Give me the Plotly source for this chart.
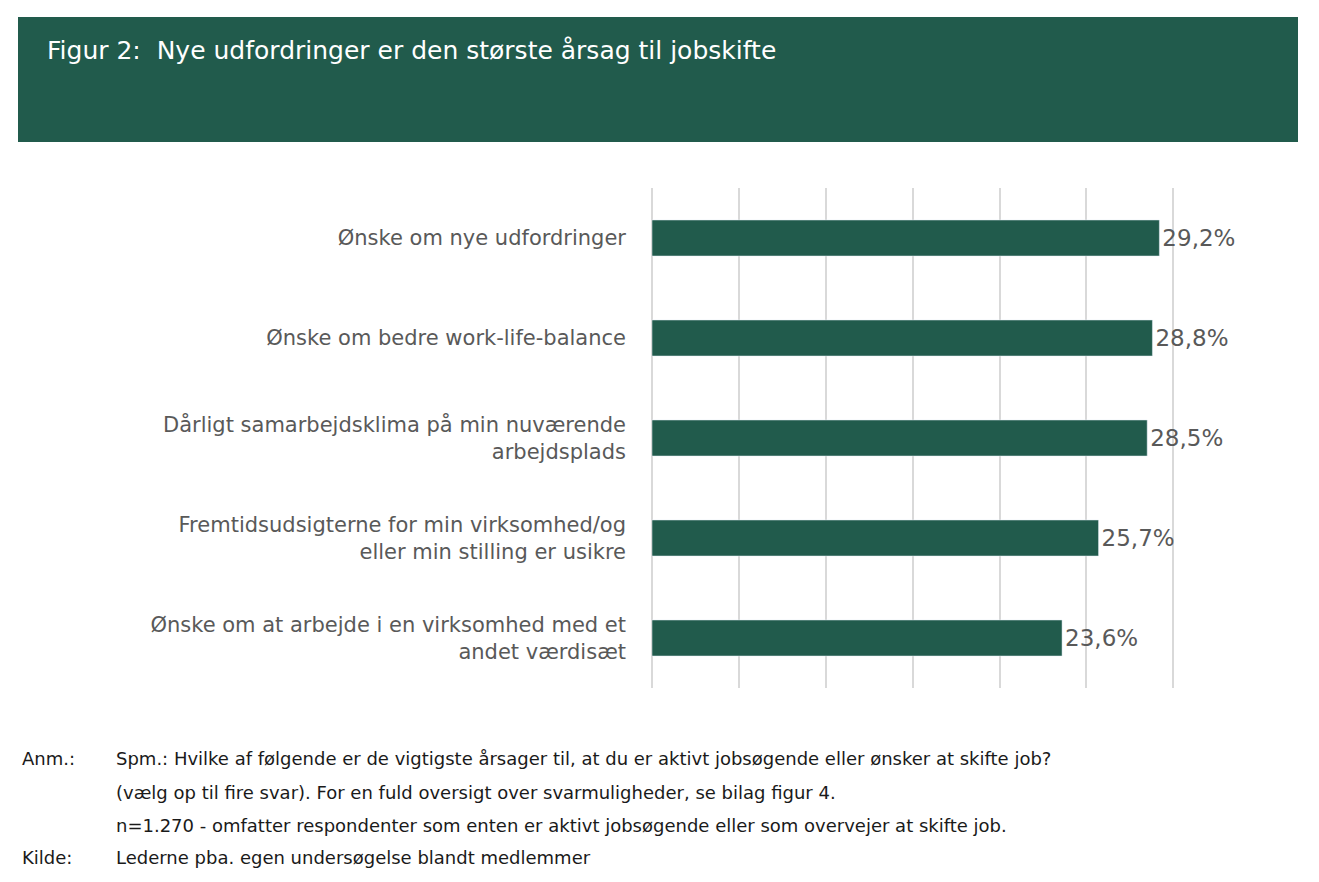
import plotly.graph_objects as go

categories = ["Ønske om nye udfordringer", "Ønske om bedre work-life-balance",
              "Dårligt samarbejdsklima på min nuværende<br>arbejdsplads",
              "Fremtidsudsigterne for min virksomhed/og<br>eller min stilling er usikre",
              "Ønske om at arbejde i en virksomhed med et<br>andet værdisæt"]
values = [29.2, 28.8, 28.5, 25.7, 23.6]
labels = ["29,2%", "28,8%", "28,5%", "25,7%", "23,6%"]

W, H = 1319, 882
OFF = 8
L, R, T, B = 652 - OFF, 1261 - OFF, 188 - OFF, 688 - OFF
def px(x): return (x - OFF - L) / (R - L)
def py(y): return (B - (y - OFF)) / (B - T)

green = "#215B4C"
font = "DejaVu Sans"
fig = go.Figure(go.Bar(
    y=categories, x=values, orientation="h", marker_color=green,
    text=labels, textposition="outside", cliponaxis=False,
    textfont=dict(size=23, color="#595959", family=font), width=0.36))
fig.update_layout(
    width=W, height=H, plot_bgcolor="white", paper_bgcolor="white",
    margin=dict(l=L, r=W - R, t=T, b=H - B), showlegend=False,
    font=dict(family=font, color="#595959"),
    xaxis=dict(range=[0, 35.05], dtick=5, showticklabels=False, gridcolor="#D9D9D9",
               gridwidth=1.5, zeroline=True, zerolinecolor="#D9D9D9", zerolinewidth=1.5,
               showline=False, fixedrange=True),
    yaxis=dict(autorange="reversed", automargin=False, tickfont=dict(size=21, color="#595959"),
               ticklabelstandoff=25, showline=False),
    shapes=[dict(type="rect", xref="paper", yref="paper", x0=px(18), x1=px(1298),
                 y0=py(142), y1=py(17), fillcolor=green, line_width=0, layer="below")],
)
ann = [dict(text="Figur 2:  Nye udfordringer er den største årsag til jobskifte", x=px(45), y=py(50),
            font=dict(size=25, color="white"))]
foot = [(20, 758, "Anm.:"), (114, 758, "Spm.: Hvilke af følgende er de vigtigste årsager til, at du er aktivt jobsøgende eller ønsker at skifte job?"),
        (114, 792, "(vælg op til fire svar). For en fuld oversigt over svarmuligheder, se bilag figur 4."),
        (114, 825, "n=1.270 - omfatter respondenter som enten er aktivt jobsøgende eller som overvejer at skifte job."),
        (20, 857, "Kilde:"), (114, 857, "Lederne pba. egen undersøgelse blandt medlemmer")]
for x, y, t in foot:
    ann.append(dict(text=t, x=px(x), y=py(y), font=dict(size=18, color="#1a1a1a")))
for a in ann:
    a.update(xref="paper", yref="paper", xanchor="left", yanchor="middle", showarrow=False)
fig.update_layout(annotations=ann)
fig.write_html("out.html")
